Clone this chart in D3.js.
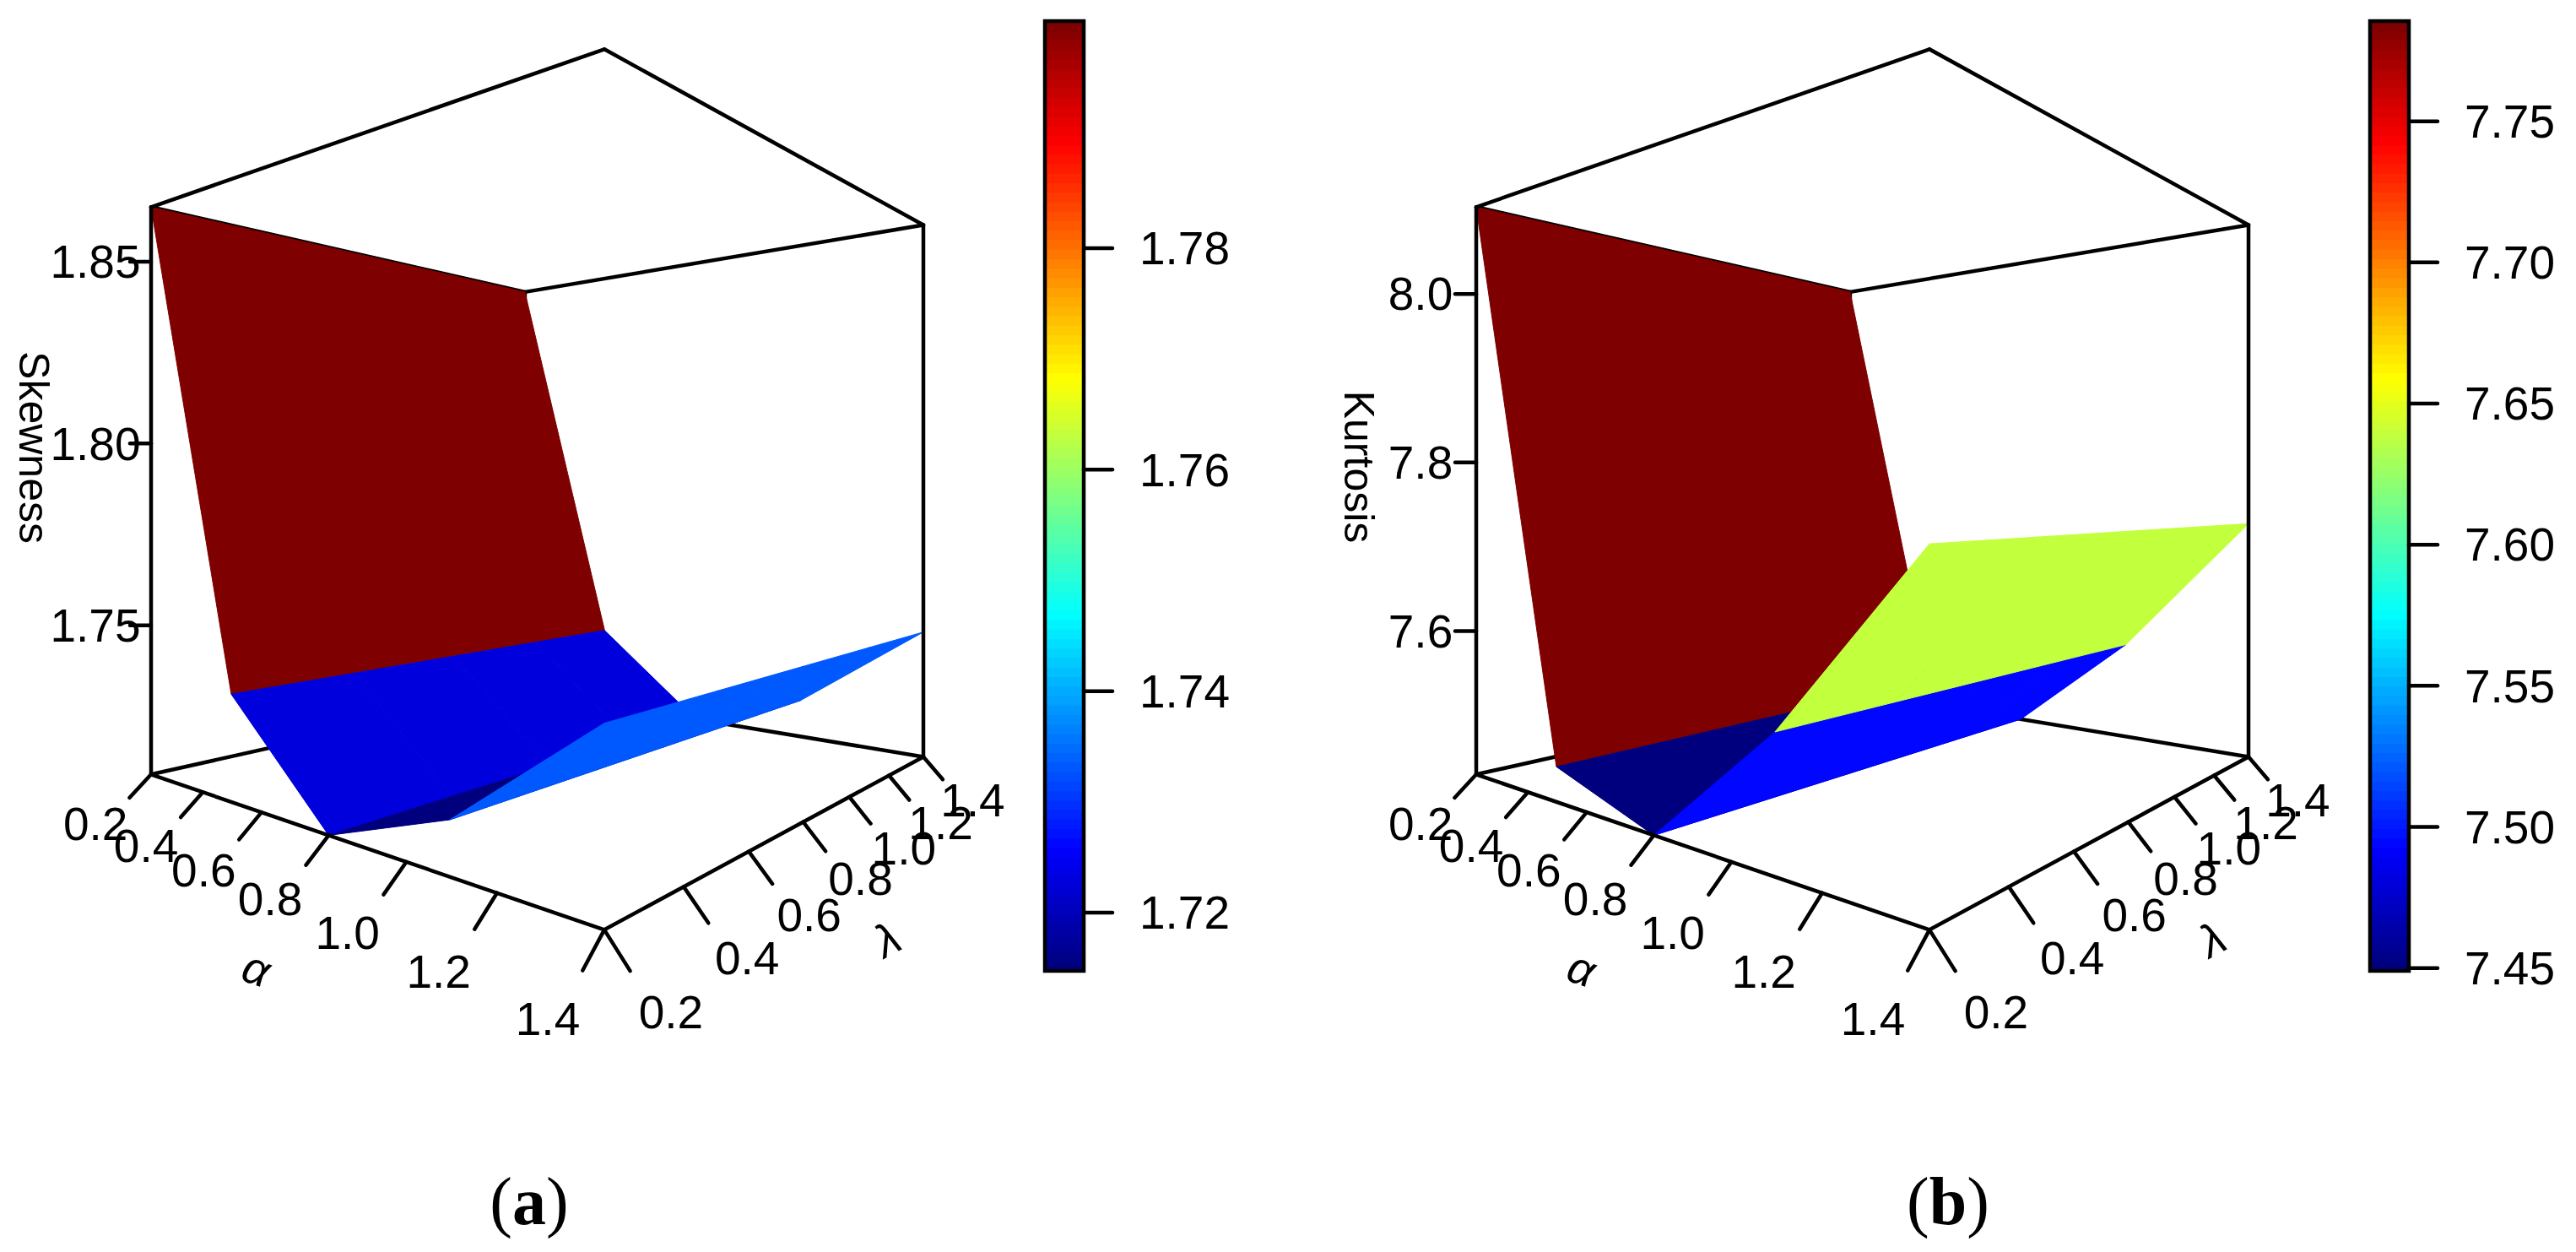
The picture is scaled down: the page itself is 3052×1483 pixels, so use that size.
<!DOCTYPE html>
<html>
<head>
<meta charset="utf-8">
<script src="https://cdn.jsdelivr.net/npm/d3@7"></script>
<style>
  body { margin: 0; background: #fff; }
  text { font-family: "Liberation Sans", Arial, sans-serif; }
</style>
</head>
<body>
<svg id="chart" width="3052" height="1483"></svg>
<script>
'use strict';

// grid of the surface
var alpha = [0.2, 0.5, 0.8, 1.1, 1.4];
var lambda = [0.2, 0.5, 0.8, 1.1, 1.4];

// skewness[i][j] : alpha[i], lambda[j]
var skewness = [
  [1.865, 1.865, 1.865, 1.865, 1.865],
  [1.736, 1.736, 1.736, 1.736, 1.736],
  [1.709, 1.709, 1.709, 1.709, 1.709],
  [1.7205, 1.7205, 1.7205, 1.7205, 1.7205],
  [1.7456, 1.7456, 1.7456, 1.7456, 1.7456]
];
var kurtosis = [
  [8.103, 8.103, 8.103, 8.103, 8.103],
  [7.468, 7.468, 7.468, 7.468, 7.468],
  [7.430, 7.430, 7.430, 7.430, 7.430],
  [7.556, 7.556, 7.556, 7.556, 7.556],
  [7.725, 7.725, 7.725, 7.725, 7.725]
];

var axisTicks = [0.2, 0.4, 0.6, 0.8, 1.0, 1.2, 1.4];
var skewZTicks = [1.75, 1.80, 1.85];
var kurtZTicks = [7.6, 7.8, 8.0];
var skewBarTicks = [1.72, 1.74, 1.76, 1.78];
var kurtBarTicks = [7.45, 7.50, 7.55, 7.60, 7.65, 7.70, 7.75];

var jet = ['#00007F', '#0000FF', '#007FFF', '#00FFFF', '#7FFF7F', '#FFFF00', '#FF7F00', '#FF0000', '#7F0000'];
var jetScale = d3.scaleLinear().domain(d3.range(9).map(i => i / 8)).range(jet).interpolate(d3.interpolateRgb);
var palette = d3.range(100).map(i => jetScale(i / 99));

var svg = d3.select('#chart');

// perspective "camera": x and height of three vertical box edges, horizon line
var cam = {L: {x: 179, h: 672}, F: {x: 716, h: 1043}, R: {x: 1094, h: 630}, yH: 584, t: 0.496};
var FS = 55;

function makeProjection(ox) {
  var qL = 1 / cam.L.h, qF = 1 / cam.F.h, qR = 1 / cam.R.h;
  var rL = cam.L.x / cam.L.h, rF = cam.F.x / cam.F.h, rR = cam.R.x / cam.R.h;
  var qB = qL + qR - qF, rB = rL + rR - rF;
  return function(u, v, w) {
    var q = qL + (qF - qL) * u + (qB - qL) * v;
    var r = rL + (rF - rL) * u + (rB - rL) * v;
    return {x: ox + r / q, y: cam.yH + (cam.t - w) / q, depth: q};
  };
}

function drawPanel(opt) {
  var g = svg.append('g');
  var P = makeProjection(opt.ox);
  var zs = opt.z;
  var uS = d3.scaleLinear().domain([0.2, 1.4]).range([0, 1]);
  var vS = d3.scaleLinear().domain([0.2, 1.4]).range([0, 1]);
  var wS = d3.scaleLinear().domain(d3.extent(zs.flat())).range([0, 1]);
  var pt = (a, l, z) => P(uS(a), vS(l), wS(z));
  var line = (p1, p2) => g.append('line')
      .attr('x1', p1.x).attr('y1', p1.y).attr('x2', p2.x).attr('y2', p2.y)
      .attr('stroke', '#000').attr('stroke-width', 4.5).attr('stroke-linecap', 'round');

  // box corners
  var c = {};
  [0, 1].forEach(w => {
    c['L' + w] = P(0, 0, w); c['F' + w] = P(1, 0, w);
    c['R' + w] = P(1, 1, w); c['B' + w] = P(0, 1, w);
  });
  // back box lines under the surface
  line(c.L0, c.B0); line(c.B0, c.R0); line(c.B0, c.B1);
  line(c.L1, c.B1); line(c.B1, c.R1);

  // facets
  var facets = [];
  for (var i = 0; i < alpha.length - 1; i++) {
    for (var j = 0; j < lambda.length - 1; j++) {
      var pts = [pt(alpha[i], lambda[j], zs[i][j]), pt(alpha[i + 1], lambda[j], zs[i + 1][j]),
                 pt(alpha[i + 1], lambda[j + 1], zs[i + 1][j + 1]), pt(alpha[i], lambda[j + 1], zs[i][j + 1])];
      facets.push({pts: pts, mean: d3.mean([zs[i][j], zs[i + 1][j], zs[i + 1][j + 1], zs[i][j + 1]]),
                   depth: d3.mean(pts, p => p.depth)});
    }
  }
  var cDom = d3.extent(facets, f => f.mean);
  var cIdx = d3.scaleLinear().domain(cDom).range([0, 99]).clamp(true);
  facets.sort((a, b) => b.depth - a.depth);
  g.selectAll('.facet').data(facets).enter().append('path')
    .attr('d', f => 'M' + f.pts.map(p => p.x + ',' + p.y).join('L') + 'Z')
    .attr('fill', f => palette[Math.round(cIdx(f.mean))])
    .attr('stroke', f => palette[Math.round(cIdx(f.mean))])
    .attr('stroke-width', 1);

  // front box lines
  line(c.L0, c.L1); line(c.R0, c.R1); line(c.L1, c.F1); line(c.F1, c.R1);
  line(c.L0, c.F0); line(c.F0, c.R0);

  // alpha axis
  axisTicks.forEach(a => {
    var u = uS(a);
    line(P(u, 0, 0), P(u, -0.04, -0.032));
    var lp = P(u, -0.1, -0.062);
    g.append('text').attr('x', lp.x).attr('y', lp.y).attr('dy', '0.35em')
      .attr('text-anchor', 'middle').attr('font-size', FS).text(d3.format('.1f')(a));
  });
  // lambda axis
  axisTicks.forEach(l => {
    var v = vS(l);
    line(P(1, v, 0), P(1.036, v, -0.036));
    var lp = P(1.09, v, -0.064);
    g.append('text').attr('x', lp.x).attr('y', lp.y).attr('dy', '0.35em')
      .attr('text-anchor', 'middle').attr('font-size', FS).text(d3.format('.1f')(l));
  });
  var aAng = Math.atan2(c.F0.y - c.L0.y, c.F0.x - c.L0.x) * 180 / Math.PI;
  var lAng = Math.atan2(c.R0.y - c.F0.y, c.R0.x - c.F0.x) * 180 / Math.PI;
  g.append('text').attr('transform', 'translate(' + (opt.ox + 303) + ',1150) rotate(' + aAng + ')')
    .attr('text-anchor', 'middle').attr('dy', '0.3em').attr('font-size', 54)
    .attr('font-style', 'italic').text('α');
  g.append('text').attr('transform', 'translate(' + (opt.ox + 1052) + ',1115) rotate(' + lAng + ')')
    .attr('text-anchor', 'middle').attr('dy', '0.3em').attr('font-size', 54)
    .attr('font-style', 'italic').text('λ');

  // z axis on left edge
  opt.zTicks.forEach(z => {
    var p = P(0, 0, wS(z));
    line({x: p.x - 25, y: p.y}, p);
    g.append('text').attr('x', p.x - 66).attr('y', p.y).attr('dy', '0.35em')
      .attr('text-anchor', 'middle').attr('font-size', FS).text(opt.zFmt(z));
  });
  g.append('text').attr('transform', 'translate(' + (opt.ox + 40) + ',' + opt.titleY + ') rotate(90)')
    .attr('text-anchor', 'middle').attr('dy', '0.35em').attr('font-size', 50).text(opt.title);

  // colour bar
  var bx = opt.ox + 1238, bw = 46, bTop = 25, bBot = 1150;
  var yBar = d3.scaleLinear().domain(cDom).range([bBot, bTop]);
  var step = (bBot - bTop) / 100;
  g.selectAll('.cb').data(palette).enter().append('rect')
    .attr('x', bx).attr('width', bw)
    .attr('y', (d, i) => bBot - (i + 1) * step).attr('height', step + 0.8)
    .attr('fill', d => d);
  g.append('rect').attr('x', bx).attr('y', bTop).attr('width', bw).attr('height', bBot - bTop)
    .attr('fill', 'none').attr('stroke', '#000').attr('stroke-width', 4.5);
  opt.barTicks.forEach(t => {
    var y = yBar(t);
    line({x: bx + bw, y: y}, {x: bx + bw + 34, y: y});
    g.append('text').attr('x', bx + bw + 66).attr('y', y).attr('dy', '0.35em')
      .attr('font-size', FS).text(d3.format('.2f')(t));
  });

  // caption
  var cap = g.append('text').attr('x', opt.capX).attr('y', 1450).attr('text-anchor', 'middle')
    .attr('font-size', 80).style('font-family', '"Liberation Serif", serif');
  cap.append('tspan').text('(');
  cap.append('tspan').attr('font-weight', 'bold').text(opt.cap);
  cap.append('tspan').text(')');
}

drawPanel({ox: 0, z: skewness, zTicks: skewZTicks, zFmt: d3.format('.2f'), title: 'Skewness',
           titleY: 530, barTicks: skewBarTicks, cap: 'a', capX: 627});
drawPanel({ox: 1570, z: kurtosis, zTicks: kurtZTicks, zFmt: d3.format('.1f'), title: 'Kurtosis',
           titleY: 553, barTicks: kurtBarTicks, cap: 'b', capX: 2308});
</script>
</body>
</html>
